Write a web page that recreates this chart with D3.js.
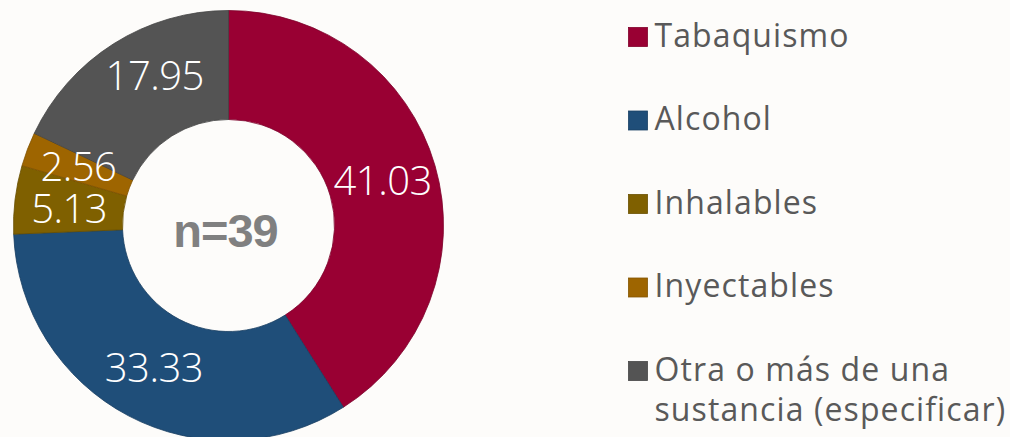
<!DOCTYPE html>
<html>
<head>
<meta charset="utf-8">
<script src="https://cdn.jsdelivr.net/npm/d3@7"></script>
<style>
  html, body { margin: 0; padding: 0; background: #fdfcfa; }
  svg { display: block; }
</style>
</head>
<body>
<svg id="chart" width="1010" height="437"></svg>
<script>
// ---- data ----
const categories = ["Tabaquismo", "Alcohol", "Inhalables", "Inyectables", "Otra o más de una sustancia (especificar)"];
const values = [41.03, 33.33, 5.13, 2.56, 17.95];
const labels = ["41.03", "33.33", "5.13", "2.56", "17.95"];
const legendLines = [["Tabaquismo"], ["Alcohol"], ["Inhalables"], ["Inyectables"], ["Otra o más de una", "sustancia (especificar)"]];
const colors = ["#990033", "#1f4e79", "#7f6000", "#9e6500", "#545454"];
const centerText = "n=39";

// ---- layout ----
const W = 1010, H = 437;
const cx = 228.5, cy = 225.5, rOuter = 215, rInner = 106;
const labelNudge = [[0, 0], [0, 0], [0, 2], [0, -2], [12, -14]];

const svg = d3.select("#chart");
svg.append("rect").attr("width", W).attr("height", H).attr("fill", "#fdfcfa");

const pie = d3.pie().sort(null).value(d => d);
const arcs = pie(values);
const arc = d3.arc().innerRadius(rInner).outerRadius(rOuter);

const g = svg.append("g").attr("transform", `translate(${cx},${cy})`);

g.selectAll("path.slice")
  .data(arcs)
  .enter().append("path")
  .attr("class", "slice")
  .attr("d", arc)
  .attr("fill", (d, i) => colors[i])
  .attr("stroke", (d, i) => d3.color(colors[i]).darker(0.6))
  .attr("stroke-width", 0.8);

g.selectAll("text.lbl")
  .data(arcs)
  .enter().append("text")
  .attr("class", "lbl")
  .attr("x", (d, i) => arc.centroid(d)[0] + labelNudge[i][0])
  .attr("y", (d, i) => arc.centroid(d)[1] + labelNudge[i][1])
  .attr("dy", "0.36em")
  .attr("text-anchor", "middle")
  .attr("fill", "#ffffff")
  .attr("font-family", "'Open Sans', sans-serif")
  .attr("font-weight", 300)
  .attr("font-size", 40)
  .attr("letter-spacing", -0.5)
  .text((d, i) => labels[i]);

g.append("text")
  .attr("x", -3)
  .attr("y", 21.5)
  .attr("text-anchor", "middle")
  .attr("fill", "#808080")
  .attr("font-family", "'Liberation Sans', Arial, sans-serif")
  .attr("font-weight", 700)
  .attr("font-size", 47)
  .attr("letter-spacing", -1)
  .text(centerText);

// ---- legend ----
const legend = svg.append("g");
const rowY = d3.scaleLinear().domain([0, 1]).range([46.5, 130]);
const items = legend.selectAll("g.item")
  .data(categories)
  .enter().append("g")
  .attr("class", "item")
  .attr("transform", (d, i) => `translate(628.5,${rowY(i)})`);

items.append("rect")
  .attr("x", 0).attr("y", -19)
  .attr("width", 19).attr("height", 19)
  .attr("fill", (d, i) => colors[i])
  .attr("stroke", (d, i) => d3.color(colors[i]).darker(0.5))
  .attr("stroke-width", 0.8);

items.each(function(d, i) {
  const t = d3.select(this).append("text")
    .attr("x", 26)
    .attr("y", 0)
    .attr("fill", "#595959")
    .attr("font-family", "'Open Sans', sans-serif")
    .attr("font-size", 32)
    .attr("letter-spacing", 1.1);
  legendLines[i].forEach((line, j) => {
    t.append("tspan").attr("x", 26).attr("y", j * 40).text(line);
  });
});
</script>
</body>
</html>
